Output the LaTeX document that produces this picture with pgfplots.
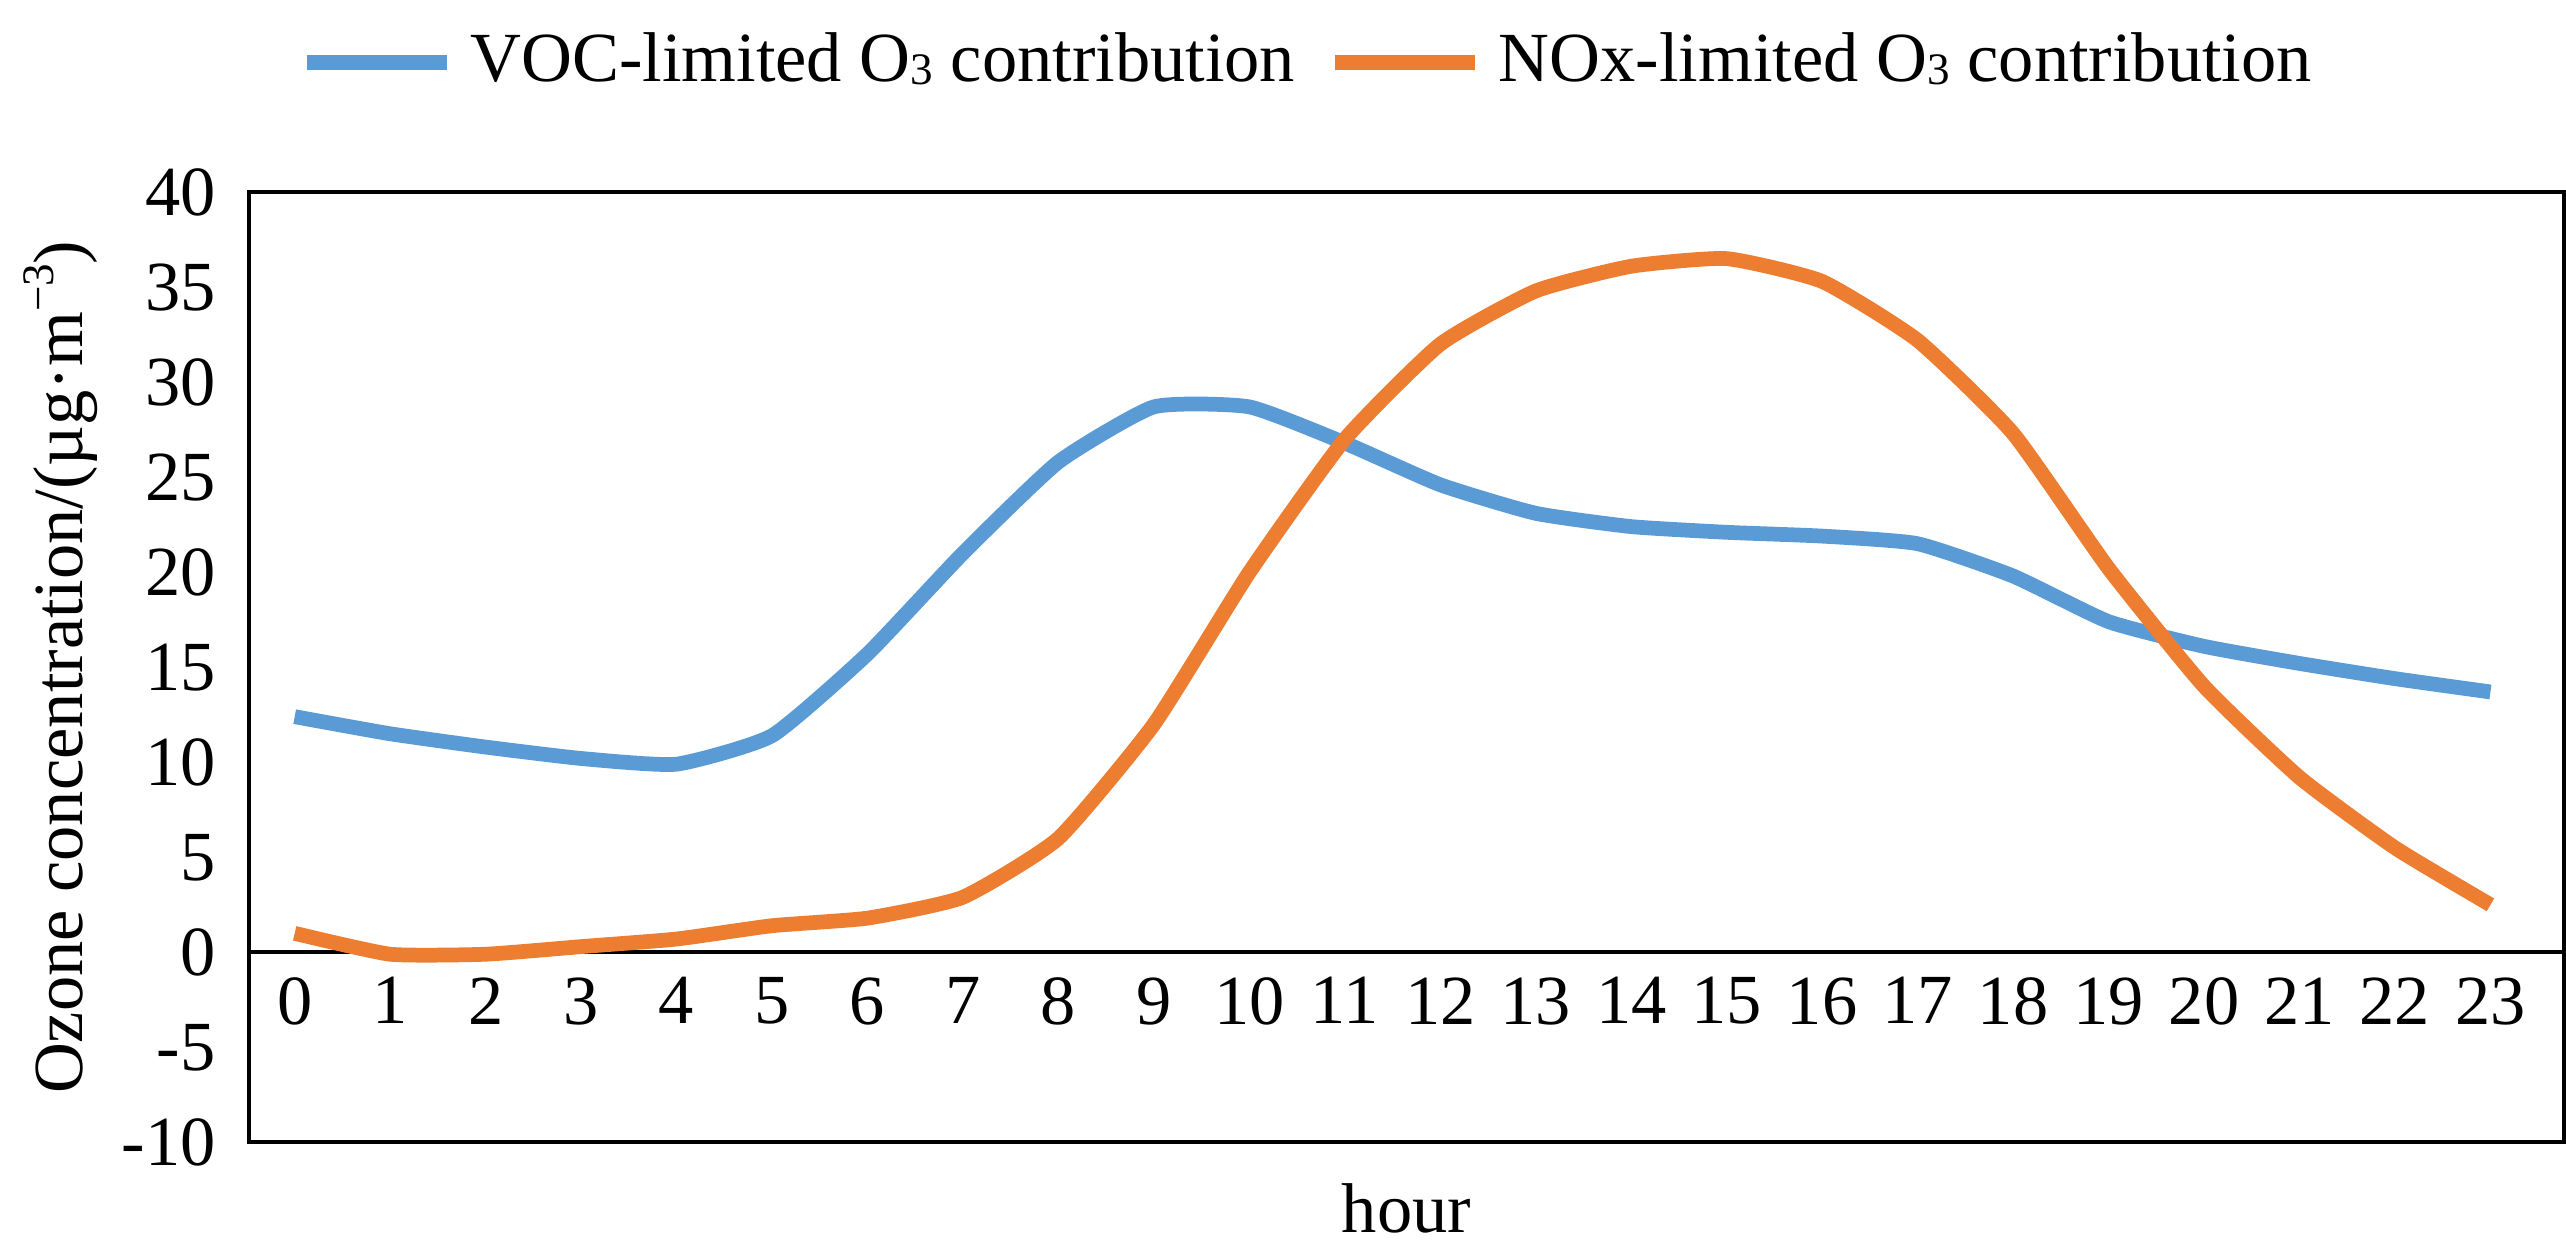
\documentclass[border=0pt]{standalone}
\usepackage{pgfplots}
\pgfplotsset{compat=1.18}
\usepackage{fontspec}
\setmainfont{Liberation Serif}
\definecolor{cblue}{HTML}{5B9BD5}
\definecolor{corange}{HTML}{ED7D31}
\newcommand{\sub}[1]{\raisebox{-0.1ex}{\fontsize{5.5}{6}\selectfont #1}}
\begin{document}
\fontsize{8.6}{10}\selectfont
\begin{tikzpicture}
\begin{axis}[
  scale only axis, width=282.6pt, height=116pt,
  xmin=-0.48, xmax=23.77, ymin=-10, ymax=40,
  ytick={-10,-5,...,40}, xtick={0,...,23},
  major tick length=0pt,
  /pgf/number format/assume math mode=true,
  tick label style={font=\fontsize{8.6}{10}\selectfont},
  xticklabel style={yshift=23.2pt},
  yticklabel style={xshift=-1pt},
  xlabel={hour}, xlabel style={yshift=-2pt},
  ylabel={Ozone concentration/(\textmu g·m\raisebox{0.9ex}{\fontsize{5.5}{6}\selectfont −3})},
  ylabel style={yshift=-3pt},
  legend columns=2,
  legend style={draw=none, at={(0.46,1)}, anchor=south, yshift=8pt,
    font=\fontsize{8.6}{10}\selectfont, /tikz/every even column/.append style={column sep=2pt}},
  legend image code/.code={\draw[#1,line width=1.8pt] (0cm,0cm) -- (0.6cm,0cm);},
  axis line style={line width=0.5pt},
]
\draw[black, line width=0.5pt] (axis cs:-0.48,0) -- (axis cs:23.77,0);
\addplot[cblue, line width=1.8pt, smooth, tension=0.3] coordinates {
(0,12.4)(1,11.5)(2,10.8)(3,10.2)(4,9.9)(5,11.4)(6,15.7)(7,21.0)(8,25.8)(9,28.7)(10,28.7)(11,26.8)
(12,24.6)(13,23.1)(14,22.4)(15,22.1)(16,21.9)(17,21.5)(18,19.8)(19,17.4)(20,16.1)(21,15.2)(22,14.4)(23,13.7)};
\addlegendentry{VOC-limited O\sub{3} contribution}
\addplot[corange, line width=1.8pt, smooth, tension=0.3] coordinates {
(0,1.0)(1,-0.1)(2,-0.1)(3,0.3)(4,0.7)(5,1.4)(6,1.8)(7,2.9)(8,6.0)(9,12.0)(10,20.0)(11,27.0)
(12,32.0)(13,34.8)(14,36.1)(15,36.5)(16,35.3)(17,32.2)(18,27.3)(19,20.2)(20,14.0)(21,9.2)(22,5.5)(23,2.5)};
\addlegendentry{NOx-limited O\sub{3} contribution}
\end{axis}
\end{tikzpicture}
\end{document}
